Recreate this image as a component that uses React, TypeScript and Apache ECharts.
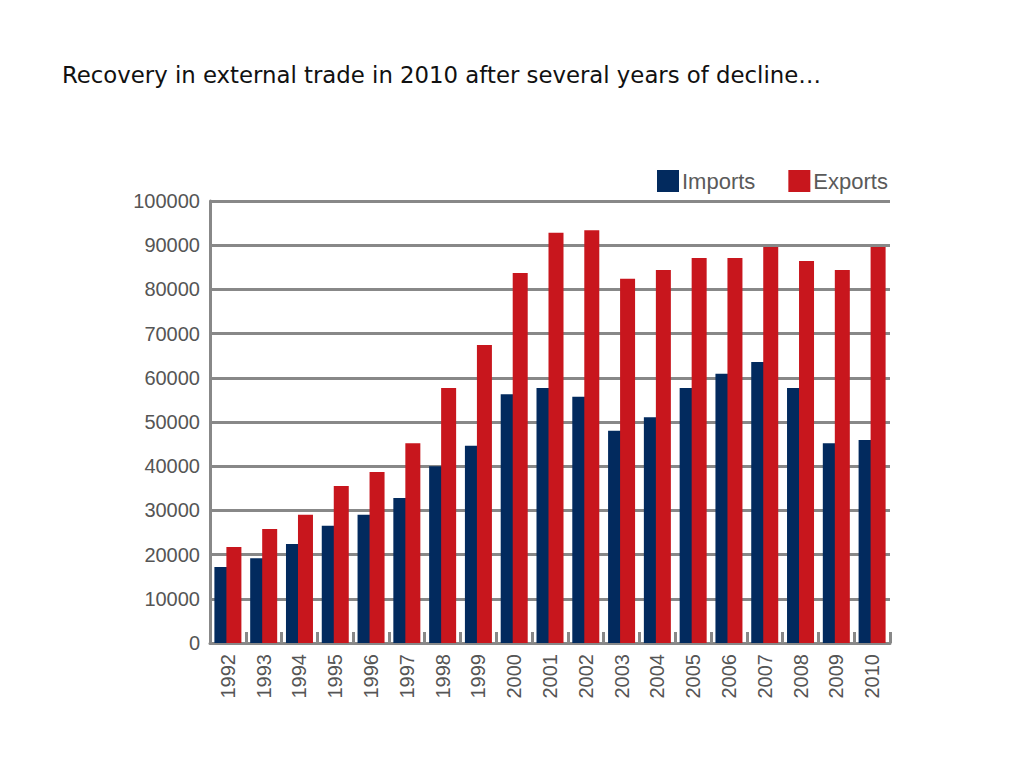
import React, { useEffect, useRef } from "react";
import * as echarts from "echarts";

const years = ["1992","1993","1994","1995","1996","1997","1998","1999","2000","2001","2002","2003","2004","2005","2006","2007","2008","2009","2010"];
const imports = [17200,19200,22400,26500,29000,32800,40000,44600,56300,57700,55700,48000,51100,57700,60900,63600,57700,45200,45900];
const exports = [21700,25800,29000,35500,38700,45200,57700,67400,83700,92800,93400,82400,84400,87100,87100,89600,86400,84400,89600];

export default function App() {
  const ref = useRef<HTMLDivElement>(null);
  useEffect(() => {
    if (!ref.current) return;
    const chart = echarts.init(ref.current, null, { renderer: "svg" });
    const labelFont = "Liberation Sans";
    chart.setOption({
      animation: false,
      backgroundColor: "#ffffff",
      title: {
        text: "Recovery in external trade in 2010 after several years of decline…",
        left: 62,
        top: 63,
        padding: 0,
        textStyle: { fontFamily: "DejaVu Sans", fontSize: 22.8, fontWeight: "normal", color: "#111111" },
      },
      legend: {
        left: 657,
        top: 170,
        padding: 0,
        itemWidth: 22,
        itemHeight: 22,
        itemGap: 33,
        icon: "rect",
        textStyle: { fontFamily: labelFont, fontSize: 22, color: "#5a5a5a", padding: [0, 0, 0, -2] },
        data: ["Imports", "Exports"],
      },
      grid: { left: 210, right: 134, top: 201, bottom: 125, containLabel: false },
      xAxis: {
        type: "category",
        data: years,
        boundaryGap: true,
        axisLine: { lineStyle: { color: "#888888", width: 3 } },
        axisTick: { show: true, inside: true, length: 11, alignWithLabel: false, lineStyle: { color: "#888888", width: 3 } },
        axisLabel: { rotate: 90, margin: 11, fontFamily: labelFont, fontSize: 20, color: "#555555" },
      },
      yAxis: {
        type: "value",
        min: 0,
        max: 100000,
        interval: 10000,
        axisLine: { show: true, lineStyle: { color: "#888888", width: 3 } },
        axisTick: { show: false },
        splitLine: { lineStyle: { color: "#888888", width: 3 } },
        axisLabel: { margin: 10, fontFamily: labelFont, fontSize: 20, color: "#555555", formatter: (v: number) => String(v) },
      },
      series: [
        { name: "Imports", type: "bar", data: imports, barWidth: 15, barGap: "-20%", itemStyle: { color: "#022a5e" } },
        { name: "Exports", type: "bar", data: exports, barWidth: 15, itemStyle: { color: "#c8161d" } },
      ],
    });
    return () => chart.dispose();
  }, []);
  return <div ref={ref} style={{ width: 1024, height: 768, position: "absolute", left: 0, top: 0 }} />;
}
